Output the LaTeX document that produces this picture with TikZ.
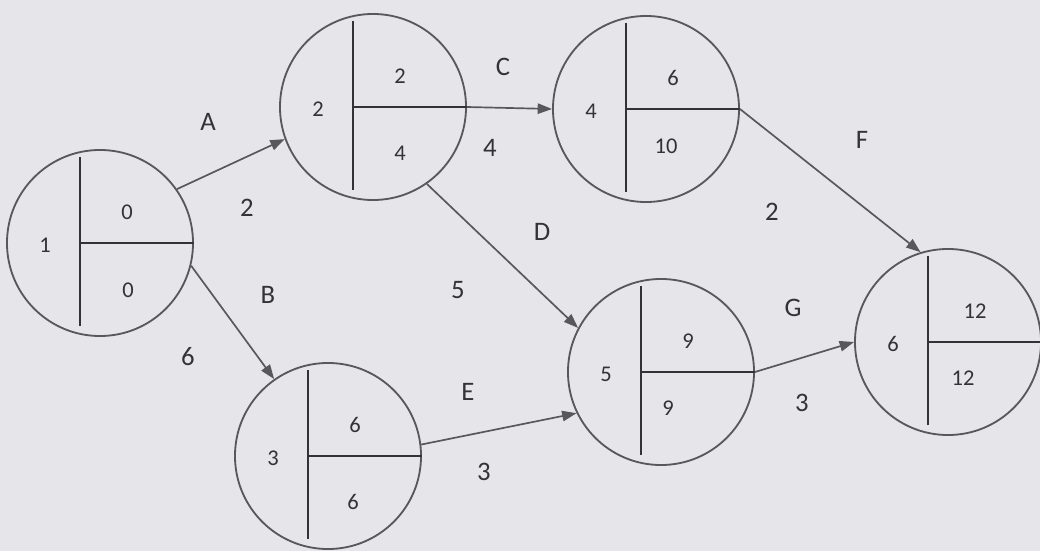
\documentclass[tikz,border=0pt]{standalone}
\usepackage{fontspec}
\setmainfont{Carlito}
\usetikzlibrary{arrows.meta,calc}
\definecolor{paper}{HTML}{E6E6EA}
\definecolor{ink}{HTML}{333335}
\definecolor{rim}{HTML}{58585C}
\tikzset{event/.style={circle, draw=rim, line width=1.3pt, minimum size=4.65cm, inner sep=0pt}, split/.style={line width=1.5pt, color=ink}, act/.style={-{Triangle[length=3.6mm,width=2.6mm]}, line width=1.2pt, color=rim}, num/.style={font=\fontsize{16}{19}\selectfont, text=ink}, lab/.style={font=\fontsize{19}{22}\selectfont, text=ink}}

\begin{document}
\begin{tikzpicture}[x=0.025cm,y=-0.025cm]
\fill[paper] (0,0) rectangle (1040,551);
\useasboundingbox (0,0) rectangle (1040,551);
% events: name/x/y/number/early/late/offset of late
\foreach \n/\x/\y/\id/\es/\lf/\bx/\by in {e1/100/243/1/0/0/28/47, e2/373/107/2/2/4/27/46, e3/328/456/3/6/6/25/46, e4/646/109/4/6/10/20/37, e5/661/372/5/9/9/7/36, e6/948/342/6/12/12/15/36}{
  \node[event] (\n) at (\x,\y) {};
  \draw[split] ($(\n.center)+(-20,-86)$) -- ($(\n.center)+(-20,83)$);
  \draw[split] ($(\n.center)+(-20,0)$) -- (\n.east);
  \node[num] (\n-id) at ($(\n.center)+(-55,2)$) {\id};
  \node[num] (\n-es) at ($(\n.center)+(27,-31)$) {\es};
  \node[num] (\n-lf) at ($(\n.center)+(\bx,\by)$) {\lf};
}
% activities
\draw[act] (e1.35) -- (e2.200);
\draw[act] (e1.-14) -- (e3.125);
\draw[act] (e2.east) -- (e4.west);
\draw[act] (e2.-55) -- (e5.152);
\draw[act] (e3.7) -- (e5.206);
\draw[act] (e4.east) -- (e6.107);
\draw[act] (e5.east) -- (e6.west);
% activity names and durations
\foreach \n/\x/\y/\t in {nA/208/122/A, dA/247/208/2, nB/268/295/B, dB/188/357/6, nC/503/67/C, dC/490/148/4, nD/542/232/D, dD/458/290/5, nE/468/392/E, dE/484/472/3, nF/862/140/F, dF/772/212/2, nG/793/308/G, dG/802/403/3}{
  \node[lab] (\n) at (\x,\y) {\t};
}
\end{tikzpicture}
\end{document}
